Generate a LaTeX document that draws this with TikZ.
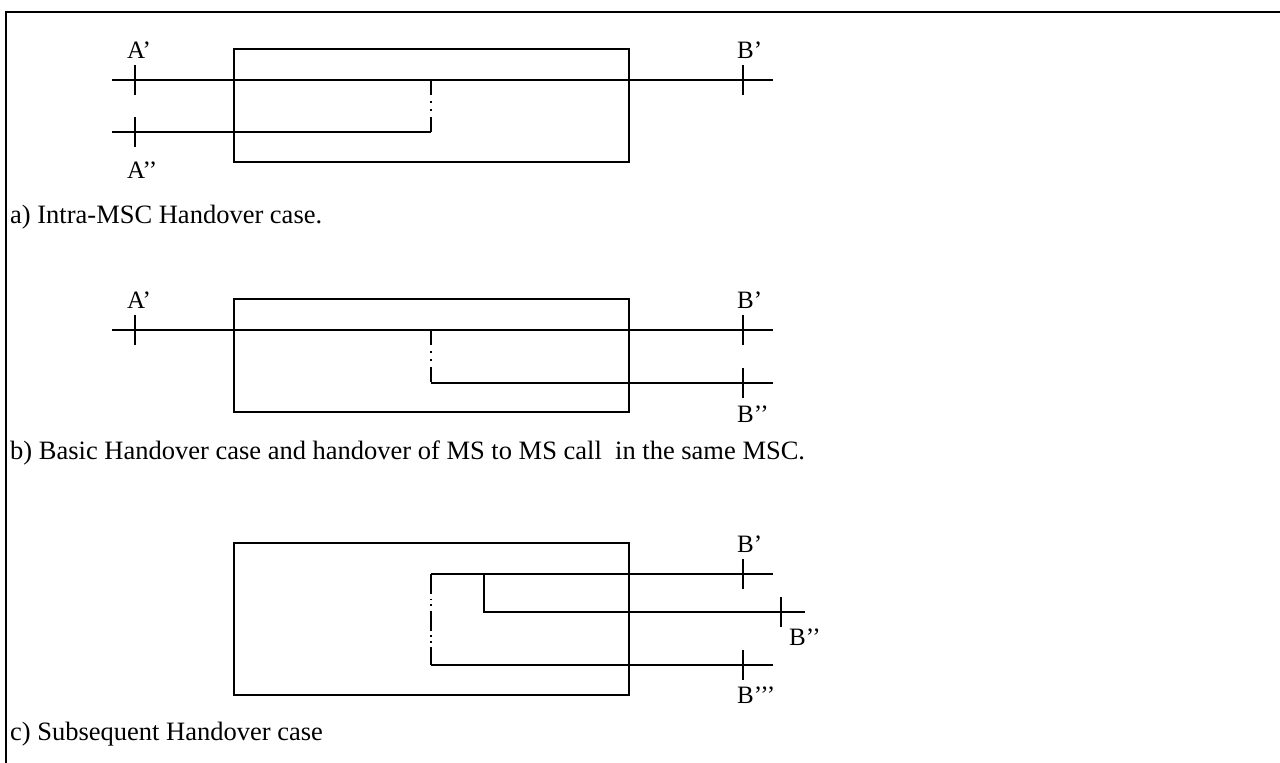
\documentclass[tikz,border=0pt]{standalone}
\usepackage{fontspec}
\setmainfont{Liberation Serif}
\begin{document}
\begin{tikzpicture}[x=1pt,y=-1pt,
  ln/.style={line width=1.7pt},
  frm/.style={line width=1.5pt},
  dd/.style={line width=1.7pt,dash pattern=on 15pt off 6pt on 1.8pt off 6.2pt on 1.8pt off 6pt},
  ddc/.style={line width=1.7pt,dash pattern=on 20pt off 4.5pt on 1.8pt off 4pt on 1.8pt off 4.5pt},
  lbl/.style={inner sep=0pt,anchor=base west,font=\fontsize{25}{29}\selectfont},
  captxt/.style={inner sep=0pt,anchor=base west,font=\fontsize{26.5}{30}\selectfont}]
\useasboundingbox (0,0) rectangle (1280,763);
% outer frame (only top and left visible)
\draw[frm] (6,763) -- (6,12) -- (1280,12);

% ---------- a) ----------
\draw[ln] (234,49) rectangle (629,162);
\coordinate (a1s) at (112,80); \coordinate (a1e) at (773,80);
\coordinate (a2s) at (112,132); \coordinate (a2c) at (431,132); \coordinate (a2t) at (431,80);
\draw[ln] (a1s) -- (a1e);
\draw[ln] (a2s) -- (a2c);
\draw[dd] (a2t) -- (a2c);
\draw[ln] (135,65) -- (135,95);
\draw[ln] (135,117) -- (135,147);
\draw[ln] (743,65) -- (743,95);
\node[lbl] (aA1) at (127,58) {A’};
\node[lbl] (aA2) at (127,178) {A’’};
\node[lbl] (aB1) at (737,58) {B’};
\node[captxt] (capa) at (10,223) {a) Intra-MSC Handover case.};

% ---------- b) ----------
\draw[ln] (234,299) rectangle (629,412);
\coordinate (b1s) at (112,330); \coordinate (b1e) at (773,330);
\coordinate (b2t) at (431,330); \coordinate (b2c) at (431,383); \coordinate (b2e) at (773,383);
\draw[ln] (b1s) -- (b1e);
\draw[dd] (b2t) -- (b2c);
\draw[ln] (b2c) -- (b2e);
\draw[ln] (135,315) -- (135,345);
\draw[ln] (743,315) -- (743,345);
\draw[ln] (743,368) -- (743,398);
\node[lbl] (bA1) at (127,308) {A’};
\node[lbl] (bB1) at (737,308) {B’};
\node[lbl] (bB2) at (737,422) {B’’};
\node[captxt] (capb) at (10,459) {b) Basic Handover case and handover of MS to MS call\ \ in the same MSC.};

% ---------- c) ----------
\draw[ln] (234,543) rectangle (629,695);
\coordinate (c1s) at (431,574); \coordinate (c1e) at (773,574);
\coordinate (c2t) at (484,574); \coordinate (c2c) at (484,612); \coordinate (c2e) at (805,612);
\coordinate (c3c) at (431,665); \coordinate (c3e) at (773,665);
\draw[ln] (c1s) -- (c1e);
\draw[ln] (c2t) -- (c2c) -- (c2e);
\draw[ln] (c3c) -- (c3e);
\draw[ddc] (c1s) -- (c3c);
\draw[ln] (743,559) -- (743,589);
\draw[ln] (781,597) -- (781,627);
\draw[ln] (743,650) -- (743,680);
\node[lbl] (cB1) at (737,552) {B’};
\node[lbl] (cB2) at (789,645) {B’’};
\node[lbl] (cB3) at (737,703) {B’’’};
\node[captxt] (capc) at (10,740) {c) Subsequent Handover case};
\end{tikzpicture}
\end{document}
